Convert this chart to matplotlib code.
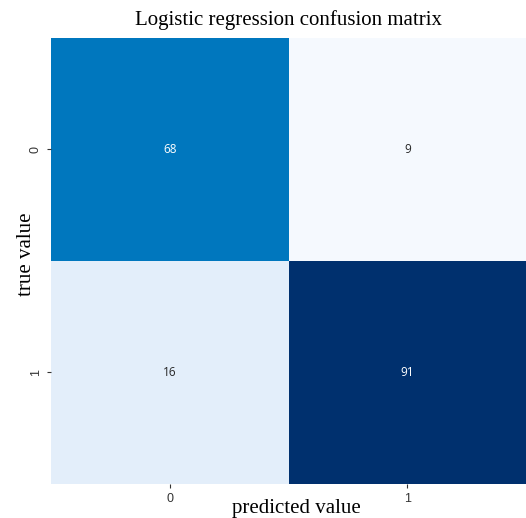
import numpy as np
import matplotlib.pyplot as plt
import seaborn as sns
from matplotlib.colors import LinearSegmentedColormap

# confusion matrix values
classes = ["0", "1"]
matriz = np.array([[68, 9],
                   [16, 91]])

# Blues-like colormap, a bit more saturated as in the reference
azuis = LinearSegmentedColormap.from_list(
    "azuis", [(0.0, "#f5f9fe"), (0.085, "#e2eefa"), (0.4, "#7fb6dc"),
              (0.72, "#0077be"), (1.0, "#00306e")])

fig = plt.figure(figsize=(5.26, 5.18), dpi=100)
ax = fig.add_axes([0.097, 0.066, 0.903, 0.861])

sns.heatmap(matriz, annot=True, fmt="d", cmap=azuis, cbar=False,
            xticklabels=classes, yticklabels=classes, ax=ax,
            annot_kws={"fontsize": 8.5, "family": "Open Sans"})

ax.set_title("Logistic regression confusion matrix", family="Liberation Serif",
             fontsize=15, pad=9)
ax.set_xlabel("predicted value", family="Liberation Serif", fontsize=15)
ax.xaxis.set_label_coords(0.517, -0.035)
ax.set_ylabel("true value", family="Liberation Serif", fontsize=15)
ax.yaxis.set_label_coords(-0.031, 0.515)
ax.tick_params(labelsize=9, colors="#333333", length=3)
for t in ax.get_xticklabels() + ax.get_yticklabels():
    t.set_family("Liberation Sans")

fig.savefig("out.png", dpi=100)
